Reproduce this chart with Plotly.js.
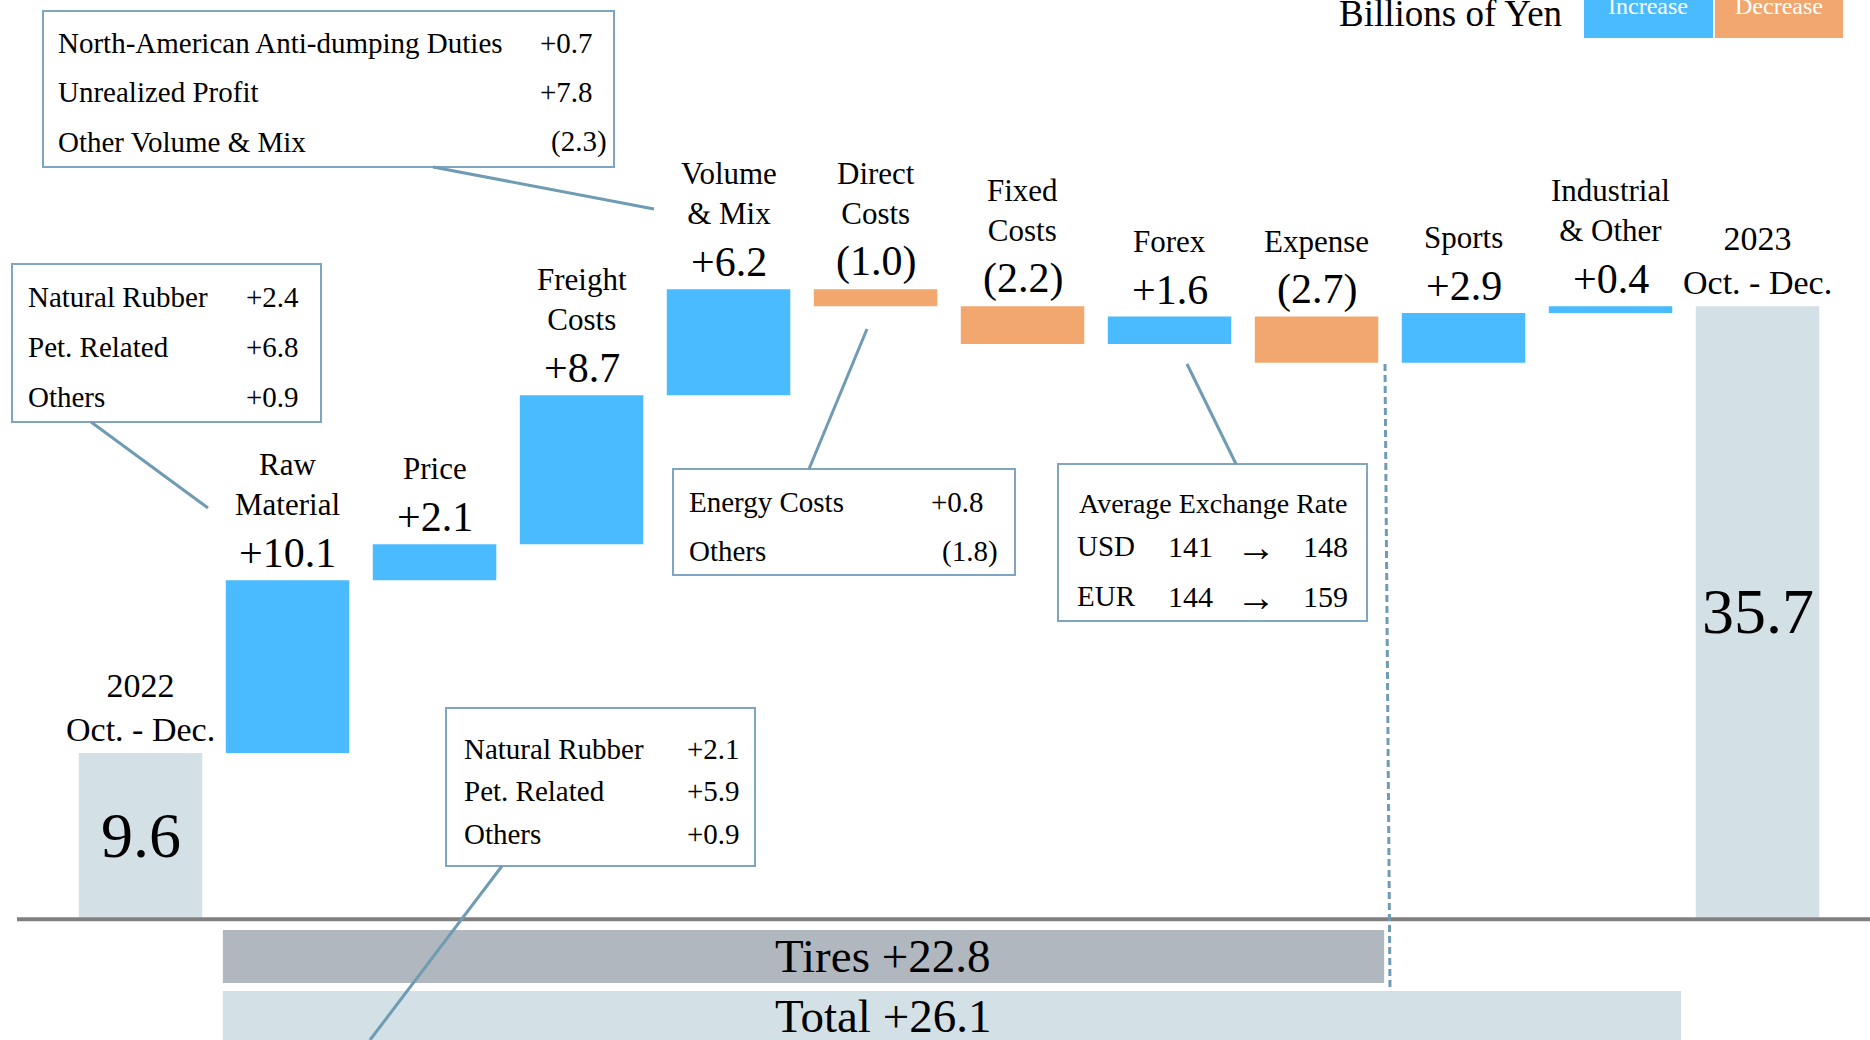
<!DOCTYPE html>
<html>
<head>
<meta charset="utf-8">
<script src="https://cdn.plot.ly/plotly-3.0.1.min.js"></script>
<style>
  html, body { margin: 0; padding: 0; background: #ffffff; }
  #chart { width: 1870px; height: 1040px; }
</style>
</head>
<body>
<div id="chart"></div>
<script>
// ---------- DATA ----------
const categories = ['2022 Oct. - Dec.', 'Raw Material', 'Price', 'Freight Costs', 'Volume & Mix',
  'Direct Costs', 'Fixed Costs', 'Forex', 'Expense', 'Sports', 'Industrial & Other', '2023 Oct. - Dec.'];
const categoryLabels = ['2022<br>Oct. - Dec.', 'Raw<br>Material', 'Price', 'Freight<br>Costs', 'Volume<br>& Mix',
  'Direct<br>Costs', 'Fixed<br>Costs', 'Forex', 'Expense', 'Sports', 'Industrial<br>& Other', '2023<br>Oct. - Dec.'];
const values = [9.6, 10.1, 2.1, 8.7, 6.2, -1.0, -2.2, 1.6, -2.7, 2.9, 0.4, 35.7];
const measures = ['absolute', 'relative', 'relative', 'relative', 'relative', 'relative',
  'relative', 'relative', 'relative', 'relative', 'relative', 'total'];

const segmentNames = ['Tires', 'Total'];
const segmentValues = [22.8, 26.1];
const segmentFrom = ['Raw Material', 'Raw Material'];
const segmentTo = ['Expense', 'Industrial & Other'];

const volumeLabels = ['North-American Anti-dumping Duties', 'Unrealized Profit', 'Other Volume & Mix'];
const volumeValues = [0.7, 7.8, -2.3];
const rawMaterialLabels = ['Natural Rubber', 'Pet. Related', 'Others'];
const rawMaterialValues = [2.4, 6.8, 0.9];
const rawMaterialTotalLabels = ['Natural Rubber', 'Pet. Related', 'Others'];
const rawMaterialTotalValues = [2.1, 5.9, 0.9];
const directLabels = ['Energy Costs', 'Others'];
const directValues = [0.8, -1.8];
const fxTitle = 'Average Exchange Rate';
const fxCurrencies = ['USD', 'EUR'];
const fxPrevious = [141, 144];
const fxCurrent = [148, 159];

const unitLabel = 'Billions of Yen';
const legendLabels = ['Increase', 'Decrease'];

// ---------- STYLE ----------
const W = 1870, H = 1040;
const FONT = 'Liberation Serif, Times New Roman, serif';
const BLUE = '#4abbff', ORANGE = '#f2a76e', BASEGRAY = '#d3e0e6', TIRESGRAY = '#b0b7be';
const BOXLINE = '#7fa6c0', LEADER = '#6f9bb3';
const px = x => x / W;
const py = y => 1 - y / H;

function fmt(v) {
  return v >= 0 ? '+' + v.toFixed(1) : '(' + Math.abs(v).toFixed(1) + ')';
}
function fmtPad(v) {
  return v >= 0 ? '+' + v.toFixed(1) + '\u2002' : '(' + Math.abs(v).toFixed(1) + ')';
}

// ---------- TRACE ----------
const trace = {
  type: 'waterfall',
  x: categories,
  y: values,
  measure: measures,
  textinfo: 'none',
  hoverinfo: 'skip',
  connector: { visible: false },
  increasing: { marker: { color: BLUE, line: { width: 0 } } },
  decreasing: { marker: { color: ORANGE, line: { width: 0 } } },
  totals: { marker: { color: BASEGRAY, line: { width: 0 } } },
  showlegend: false
};

// ---------- ANNOTATIONS ----------
const annotations = [];
const shapes = [];

// running levels
let level = 0;
const tops = [];
values.forEach((v, i) => {
  if (measures[i] === 'absolute') { level = v; tops.push(v); }
  else if (measures[i] === 'total') { tops.push(level); }
  else { const prev = level; level += v; tops.push(Math.max(prev, level)); }
});

categories.forEach((c, i) => {
  const isTotal = measures[i] !== 'relative';
  annotations.push({
    x: c, y: tops[i], xref: 'x', yref: 'y', text: categoryLabels[i], showarrow: false,
    xanchor: 'center', yanchor: 'bottom', yshift: isTotal ? 3 : 56,
    font: { family: FONT, size: isTotal ? 34 : 31, color: '#000' }
  });
  if (isTotal) {
    annotations.push({
      x: c, y: tops[i] / 2, xref: 'x', yref: 'y', text: values[i].toFixed(1), showarrow: false,
      xanchor: 'center', yanchor: 'middle', font: { family: FONT, size: 64, color: '#000' }
    });
  } else {
    annotations.push({
      x: c, y: tops[i], xref: 'x', yref: 'y', text: fmt(values[i]), showarrow: false,
      xanchor: 'center', yanchor: 'bottom', yshift: 2,
      font: { family: FONT, size: 42, color: '#000' }
    });
  }
});

// segment bars below zero (Tires / Total)
const segY = [[-0.74, -3.83], [-4.30, -9]];
const segColor = [TIRESGRAY, BASEGRAY];
const segTextY = [-2.28, -5.75];
const segRight = [0.46, 0.48];
segmentNames.forEach((n, k) => {
  const i0 = categories.indexOf(segmentFrom[k]);
  const i1 = categories.indexOf(segmentTo[k]);
  shapes.push({
    type: 'rect', xref: 'x', yref: 'y', x0: i0 - 0.44, x1: i1 + segRight[k],
    y0: segY[k][0], y1: segY[k][1], fillcolor: segColor[k], line: { width: 0 }, layer: 'below'
  });
  annotations.push({
    x: i0 + 3.3, y: segTextY[k], xref: 'x', yref: 'y', text: n + ' ' + fmt(segmentValues[k]),
    showarrow: false, xanchor: 'left', yanchor: 'middle',
    font: { family: FONT, size: 47, color: '#000' }
  });
});

// zero line
shapes.push({ type: 'line', xref: 'paper', yref: 'y', x0: px(17), x1: 1, y0: -0.1, y1: -0.1,
  line: { color: '#808080', width: 4 } });

// dashed separator
shapes.push({ type: 'line', xref: 'paper', yref: 'paper', x0: px(1385), y0: py(364), x1: px(1390), y1: py(990),
  line: { color: LEADER, width: 3, dash: '7px,4px' } });

// callout boxes
function box(x0, y0, x1, y1) {
  shapes.push({ type: 'rect', xref: 'paper', yref: 'paper', x0: px(x0), x1: px(x1), y0: py(y0), y1: py(y1),
    line: { color: BOXLINE, width: 2 }, fillcolor: 'rgba(255,255,255,0)' });
}
function leader(x0, y0, x1, y1) {
  shapes.push({ type: 'line', xref: 'paper', yref: 'paper', x0: px(x0), x1: px(x1), y0: py(y0), y1: py(y1),
    line: { color: LEADER, width: 3 } });
}
function txt(x, y, t, anchor, size) {
  annotations.push({ xref: 'paper', yref: 'paper', x: px(x), y: py(y), text: t, showarrow: false,
    xanchor: anchor, yanchor: 'middle', font: { family: FONT, size: size || 29, color: '#000' } });
}
function listBox(labels, vals, x0, y0, x1, y1, lx, rx, rows) {
  box(x0, y0, x1, y1);
  labels.forEach((l, i) => {
    txt(lx, rows[i], l, 'left');
    txt(rx, rows[i], fmtPad(vals[i]), 'right');
  });
}

listBox(volumeLabels, volumeValues, 43, 11, 614, 167, 56, 609, [43, 92, 142]);
leader(433, 167, 654, 209);

listBox(rawMaterialLabels, rawMaterialValues, 12, 264, 321, 422, 26, 315, [297, 347, 397]);
leader(91, 422, 208, 508);

listBox(directLabels, directValues, 673, 469, 1015, 575, 687, 1000, [502, 551]);
leader(809, 469, 867, 329);

listBox(rawMaterialTotalLabels, rawMaterialTotalValues, 446, 708, 755, 866, 462, 756, [749, 791, 834]);
leader(502, 866, 370, 1040);

// forex box
box(1058, 464, 1367, 621);
txt(1213, 503, fxTitle, 'center', 28);
fxCurrencies.forEach((c, i) => {
  const y = [546, 596][i];
  txt(1075, y, c, 'left', 29);
  txt(1190, y, String(fxPrevious[i]), 'center', 30);
  txt(1256, y + 1, '\u2192', 'center', 40);
  txt(1350, y, String(fxCurrent[i]), 'right', 30);
});
leader(1236, 464, 1187, 364);

// unit + legend
annotations.push({ xref: 'paper', yref: 'paper', x: px(1564), y: py(36), text: unitLabel, showarrow: false,
  xanchor: 'right', yanchor: 'bottom', font: { family: FONT, size: 37, color: '#000' } });
shapes.push({ type: 'rect', xref: 'paper', yref: 'paper', x0: px(1584), x1: px(1713), y0: py(38), y1: 1.01,
  fillcolor: BLUE, line: { width: 0 } });
shapes.push({ type: 'rect', xref: 'paper', yref: 'paper', x0: px(1715), x1: px(1843), y0: py(38), y1: 1.01,
  fillcolor: ORANGE, line: { width: 0 } });
[1648, 1779].forEach((x, i) => {
  annotations.push({ xref: 'paper', yref: 'paper', x: px(x), y: py(21), text: legendLabels[i], showarrow: false,
    xanchor: 'center', yanchor: 'bottom', font: { family: FONT, size: 24, color: '#ffffff' } });
});

const layout = {
  width: W, height: H,
  margin: { l: 0, r: 0, t: 0, b: 0, pad: 0 },
  paper_bgcolor: '#ffffff', plot_bgcolor: '#ffffff',
  showlegend: false,
  waterfallgap: 0.16,
  xaxis: { type: 'category', range: [-0.956, 11.765], visible: false, fixedrange: true },
  yaxis: { range: [-7.16, 53.59], visible: false, fixedrange: true, zeroline: false },
  annotations: annotations,
  shapes: shapes,
  hovermode: false
};

Plotly.newPlot('chart', [trace], layout, { displayModeBar: false, staticPlot: true });
</script>
</body>
</html>
